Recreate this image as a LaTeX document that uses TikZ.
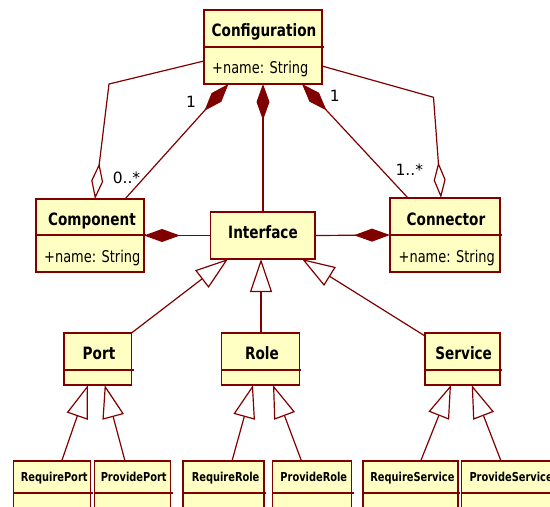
\documentclass[tikz,border=0pt]{standalone}
\usepackage{fontspec}
\setmainfont{DejaVu Sans}[FakeStretch=0.8]
\newfontfamily\lblfont{DejaVu Sans}
\usetikzlibrary{arrows.meta}
\definecolor{umlline}{RGB}{128,0,0}
\definecolor{umlfill}{RGB}{255,255,196}
\tikzset{
  cls/.style={draw=umlline, fill=umlfill, line width=1.2pt, inner sep=0pt, outer sep=0pt},
  divline/.style={draw=umlline, line width=1.2pt},
  ttl/.style={anchor=base, inner sep=0pt, font=\fontsize{17}{20}\selectfont\bfseries},
  sttl/.style={anchor=base, inner sep=0pt, font=\fontsize{12.3}{14}\selectfont\bfseries},
  attr/.style={anchor=base west, inner sep=0pt, font=\fontsize{16.2}{19}\selectfont},
  mult/.style={anchor=base, inner sep=0pt, font=\lblfont\fontsize{15.5}{18}\selectfont},
  conn/.style={draw=umlline, line width=1.2pt},
  compo/.style={conn, {Diamond[length=36pt,width=13pt,fill=umlline]}-},
  aggr/.style={conn, -{Diamond[open,length=36pt,width=12pt]}},
  gen/.style={conn, -{Triangle[open,length=33pt,width=22pt]}},
}
\begin{document}
\begin{tikzpicture}[x=1pt,y=-1pt]
\clip (0,0) rectangle (550,507);
\fill[white] (0,0) rectangle (550,507);

% classes
\node[cls, minimum width=118pt, minimum height=74pt] (conf) at (263,47) {};
\draw[divline] (204,47) -- (324,47);
\node[ttl] (conft) at (264,36) {Configuration};
\node[attr] (confa) at (212,73) {+name: String};

\node[cls, minimum width=108pt, minimum height=73pt] (comp) at (90,235.5) {};
\draw[divline] (36,235) -- (146,235);
\node[ttl] (compt) at (92,225) {Component};
\node[attr] (compa) at (44,262) {+name: String};

\node[cls, minimum width=104.5pt, minimum height=47pt] (iface) at (262.75,235.5) {};
\node[ttl] (ifacet) at (263,238) {Interface};

\node[cls, minimum width=110pt, minimum height=74pt] (connr) at (445,235) {};
\draw[divline] (390,235) -- (502,235);
\node[ttl] (connrt) at (446,225) {Connector};
\node[attr] (connra) at (398.5,262) {+name: String};

\node[cls, minimum width=67.5pt, minimum height=52pt] (port) at (97.75,359) {};
\draw[divline] (64,370) -- (133.5,370);
\node[ttl] (portt) at (99,359) {Port};

\node[cls, minimum width=78pt, minimum height=52pt] (role) at (260.4,359) {};
\draw[divline] (221.4,370) -- (301.4,370);
\node[ttl] (rolet) at (262,359) {Role};

\node[cls, minimum width=75pt, minimum height=52pt] (serv) at (462.5,359) {};
\draw[divline] (425,370) -- (502,370);
\node[ttl] (servt) at (463.7,359) {Service};

\node[cls, minimum width=77.4pt, minimum height=59pt] (rqp) at (52,490.5) {};
\draw[divline] (13.3,493) -- (92.7,493);
\node[sttl] (rqpt) at (54.2,481.7) {RequirePort};

\node[cls, minimum width=76pt, minimum height=59pt] (pvp) at (132.7,490.5) {};
\draw[divline] (94.7,493) -- (172.7,493);
\node[sttl] (pvpt) at (133.7,481.7) {ProvidePort};

\node[cls, minimum width=81pt, minimum height=59pt] (rqr) at (223.5,490.5) {};
\draw[divline] (183,493) -- (266,493);
\node[sttl] (rqrt) at (225.6,481.7) {RequireRole};

\node[cls, minimum width=78.9pt, minimum height=59pt] (pvr) at (312.05,490.5) {};
\draw[divline] (272.6,493) -- (353.5,493);
\node[sttl] (pvrt) at (313.8,481.7) {ProvideRole};

\node[cls, minimum width=95pt, minimum height=59pt] (rqs) at (410.5,490.5) {};
\draw[divline] (363,493) -- (460,493);
\node[sttl] (rqst) at (412.4,481.7) {RequireService};

\node[cls, minimum width=108.3pt, minimum height=59pt] (pvs) at (515.85,490.5) {};
\draw[divline] (461.7,493) -- (570,493);
\node[sttl, anchor=base west] (pvst) at (469.3,481.7) {ProvideService};

% bend points of aggregations
\coordinate (bendL) at (109,84);
\coordinate (bendR) at (433.5,97.3);

% aggregations
\draw[aggr] ([yshift=-14pt]conf.west) -- (bendL) -- ([xshift=59pt]comp.north west);
\draw[aggr] ([yshift=-19pt]conf.east) -- (bendR) -- ([xshift=51pt]connr.north west);

% compositions
\draw[compo] ([xshift=24.5pt]conf.south west) -- ([xshift=89pt]comp.north west);
\draw[compo] (conf.south) -- (conf.south |- iface.north);
\draw[compo] ([xshift=-20pt]conf.south east) -- ([xshift=18pt]connr.north west);
\draw[compo] (comp.east) -- (iface.west);
\draw[compo] (connr.west) -- (iface.east);

% multiplicities
\node[mult] (m1) at (191,107) {1};
\node[mult] (m2) at (126.5,183) {0..*};
\node[mult] (m3) at (334.7,101.7) {1};
\node[mult] (m4) at (409.3,175) {1..*};

% generalizations
\draw[gen] (port.north east) -- ([xshift=17.5pt]iface.south west);
\draw[gen] (role.north -| 261,0) -- (iface.south -| 261,0);
\draw[gen] ([yshift=-3pt]serv.north west) -- ([xshift=-13pt]iface.south east);

\draw[gen] ([xshift=48.4pt]rqp.north west) -- ([xshift=24pt]port.south west);
\draw[gen] ([xshift=30.3pt]pvp.north west) -- ([xshift=40.7pt]port.south west);
\draw[gen] ([xshift=49pt]rqr.north west) -- ([xshift=31.6pt]role.south west);
\draw[gen] ([xshift=28.9pt]pvr.north west) -- ([xshift=51.6pt]role.south west);
\draw[gen] ([xshift=57.7pt]rqs.north west) -- ([xshift=26pt]serv.south west);
\draw[gen] ([xshift=39.3pt]pvs.north west) -- ([xshift=46.7pt]serv.south west);
\end{tikzpicture}
\end{document}
